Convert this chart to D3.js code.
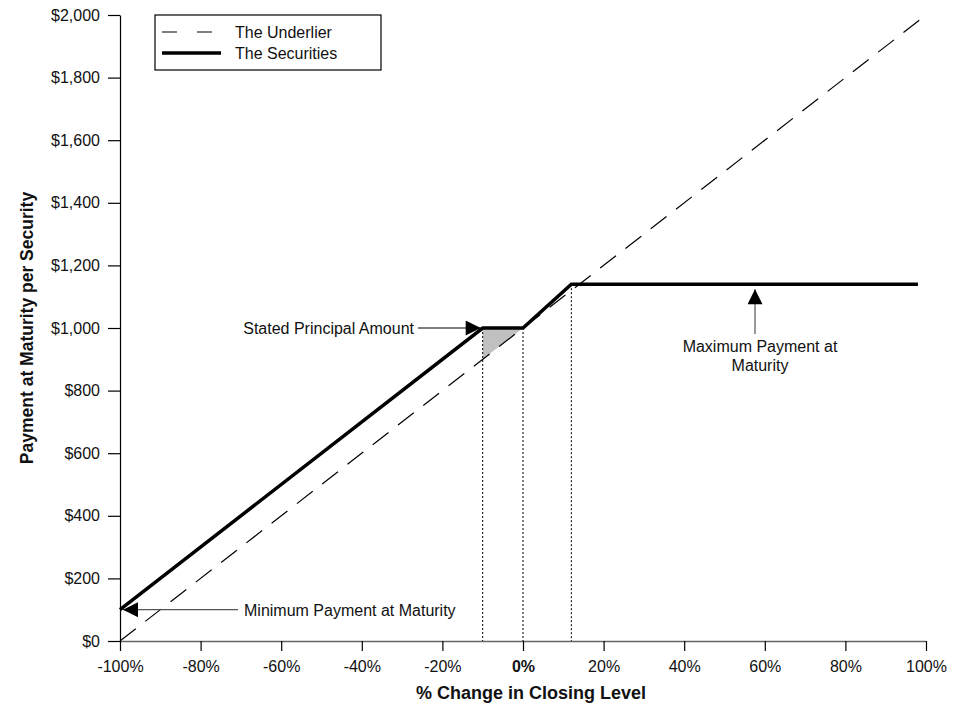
<!DOCTYPE html>
<html>
<head>
<meta charset="utf-8">
<script src="https://cdn.jsdelivr.net/npm/d3@7"></script>
<style>
  body { margin: 0; background: #fff; }
  text { font-family: "Liberation Sans", Arial, sans-serif; fill: #111; }
</style>
</head>
<body>
<div id="chart"></div>
<script>
// payoff data (x = % change in closing level, y = payment in $)
var underlierX = [-100, 100]
var underlierY = [0, 2000]
var securitiesX = [-100, -10, 0, 12, 98]
var securitiesY = [100, 1000, 1000, 1140, 1140]
var shadedX = [-10, 0, -10]
var shadedY = [1000, 1000, 900]
var guideX = [-10, 0, 12]
var guideY = [1000, 1000, 1140]
var xTicks = [-100, -80, -60, -40, -20, 0, 20, 40, 60, 80, 100]
var yTicks = [0, 200, 400, 600, 800, 1000, 1200, 1400, 1600, 1800, 2000]

var svg = d3.select("#chart").append("svg")
    .attr("width", 961)
    .attr("height", 711)

var x = d3.scaleLinear().domain([-100, 100]).range([120, 926])
var y = d3.scaleLinear().domain([0, 2000]).range([641, 15])

var defs = svg.append("defs")
defs.append("marker")
    .attr("id", "arrow")
    .attr("viewBox", "0 0 10 10")
    .attr("refX", 10).attr("refY", 5)
    .attr("markerWidth", 24).attr("markerHeight", 15)
    .attr("markerUnits", "userSpaceOnUse")
    .attr("orient", "auto")
  .append("path")
    .attr("d", "M0,0 L10,5 L0,10 Z")
    .attr("fill", "#000")

// x axis
var xAxis = svg.append("g")
    .attr("transform", "translate(0," + y(0) + ")")
    .call(d3.axisBottom(x).tickValues(xTicks).tickSize(10).tickSizeOuter(0)
      .tickFormat(function(d) { return d + "%" }))
xAxis.select(".domain").attr("stroke", "#666").attr("stroke-width", 1.5)
xAxis.selectAll(".tick line").attr("stroke", "#000").attr("stroke-width", 1.2)
xAxis.selectAll(".tick text")
    .attr("y", 20)
    .style("font-size", "16px")
    .style("font-family", "Liberation Sans, Arial, sans-serif")
    .attr("fill", "#222")
    .style("font-weight", function(d) { return d === 0 ? "bold" : "normal" })

// y axis
var yAxis = svg.append("g")
    .attr("transform", "translate(" + x(-100) + ",0)")
    .call(d3.axisLeft(y).tickValues(yTicks).tickSize(12).tickSizeOuter(0)
      .tickFormat(function(d) { return "$" + d3.format(",")(d) }))
yAxis.select(".domain").attr("stroke", "#000").attr("stroke-width", 1.2)
yAxis.selectAll(".tick line").attr("stroke", "#000").attr("stroke-width", 1.2)
yAxis.selectAll(".tick text")
    .attr("x", -20)
    .style("font-size", "16px")
    .style("font-family", "Liberation Sans, Arial, sans-serif")
    .attr("fill", "#222")

// axis titles
svg.append("text")
    .attr("x", 531).attr("y", 699)
    .attr("text-anchor", "middle")
    .style("font-size", "18px").style("font-weight", "bold")
    .text("% Change in Closing Level")
svg.append("text")
    .attr("transform", "translate(33,328) rotate(-90)")
    .attr("text-anchor", "middle")
    .style("font-size", "17.5px").style("font-weight", "bold")
    .text("Payment at Maturity per Security")

// shaded area
var shaded = shadedX.map(function(d, i) { return [x(d), y(shadedY[i])] })
svg.append("path")
    .attr("d", "M" + shaded.join("L") + "Z")
    .attr("fill", "#c0c0c0")

// dotted guides
svg.selectAll(".guide").data(guideX).enter()
  .append("line")
    .attr("class", "guide")
    .attr("x1", function(d) { return x(d) })
    .attr("x2", function(d) { return x(d) })
    .attr("y1", function(d, i) { return y(guideY[i]) })
    .attr("y2", y(0))
    .attr("stroke", "#000")
    .attr("stroke-width", 1)
    .attr("stroke-dasharray", "2,2")

var line = d3.line()
    .x(function(d) { return x(d[0]) })
    .y(function(d) { return y(d[1]) })

// underlier
svg.append("path")
    .datum(underlierX.map(function(d, i) { return [d, underlierY[i]] }))
    .attr("d", line)
    .attr("fill", "none")
    .attr("stroke", "#000")
    .attr("stroke-width", 1.2)
    .attr("stroke-dasharray", "20,12")

// securities
svg.append("path")
    .datum(securitiesX.map(function(d, i) { return [d, securitiesY[i]] }))
    .attr("d", line)
    .attr("fill", "none")
    .attr("stroke", "#000")
    .attr("stroke-width", 3.5)

// annotations
svg.append("line")
    .attr("x1", 418).attr("y1", y(1000))
    .attr("x2", x(-10) - 2).attr("y2", y(1000))
    .attr("stroke", "#000").attr("stroke-width", 1.2)
    .attr("marker-end", "url(#arrow)")
svg.append("text")
    .attr("x", 414).attr("y", y(1000) + 6)
    .attr("text-anchor", "end")
    .style("font-size", "16px")
    .text("Stated Principal Amount")

svg.append("line")
    .attr("x1", 238).attr("y1", y(100))
    .attr("x2", x(-100) + 3).attr("y2", y(100))
    .attr("stroke", "#555").attr("stroke-width", 1.2)
    .attr("marker-end", "url(#arrow)")
svg.append("text")
    .attr("x", 244).attr("y", y(100) + 6)
    .style("font-size", "16px")
    .text("Minimum Payment at Maturity")

svg.append("line")
    .attr("x1", 755).attr("y1", 334)
    .attr("x2", 755).attr("y2", y(1140) + 5)
    .attr("stroke", "#555").attr("stroke-width", 1.2)
    .attr("marker-end", "url(#arrow)")
svg.append("text")
    .attr("x", 760).attr("y", 352)
    .attr("text-anchor", "middle")
    .style("font-size", "16px")
    .text("Maximum Payment at")
svg.append("text")
    .attr("x", 760).attr("y", 371)
    .attr("text-anchor", "middle")
    .style("font-size", "16px")
    .text("Maturity")

// legend
var legend = svg.append("g").attr("transform", "translate(155,15)")
legend.append("rect")
    .attr("width", 226).attr("height", 55)
    .attr("fill", "#fff").attr("stroke", "#000").attr("stroke-width", 1.2)
var legendItems = [
  {label: "The Underlier", dash: "15,20", w: 1.2},
  {label: "The Securities", dash: null, w: 3.5}
]
var item = legend.selectAll(".item").data(legendItems).enter()
  .append("g")
    .attr("transform", function(d, i) { return "translate(0," + (17 + i * 21) + ")" })
item.append("line")
    .attr("x1", 7).attr("x2", 66)
    .attr("stroke", "#000")
    .attr("stroke-width", function(d) { return d.w })
    .attr("stroke-dasharray", function(d) { return d.dash })
item.append("text")
    .attr("x", 80).attr("y", 6)
    .style("font-size", "16px")
    .text(function(d) { return d.label })
</script>
</body>
</html>
